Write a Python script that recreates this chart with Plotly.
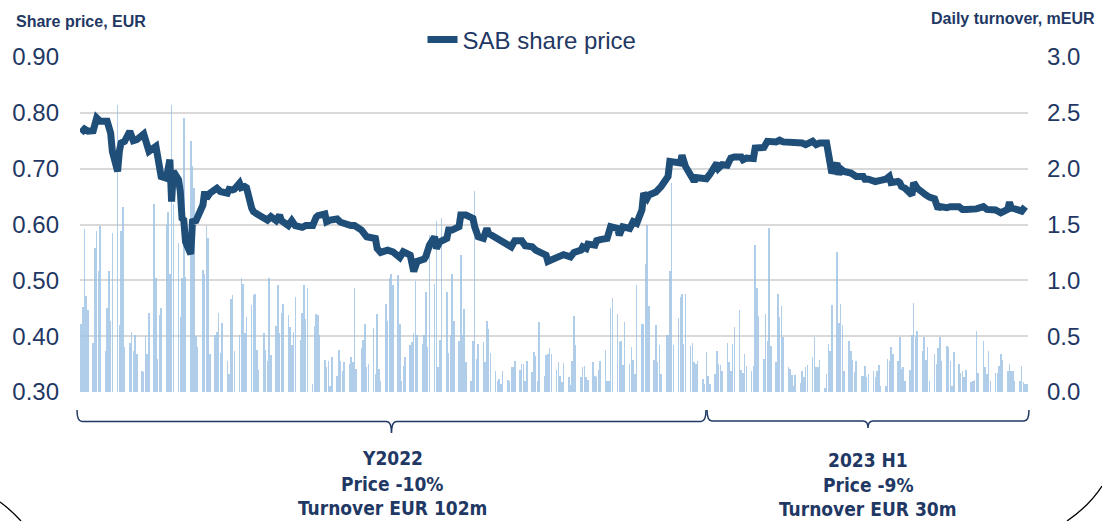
import pandas as pd
import plotly.graph_objects as go

# ---------------- data ----------------
trading_days = pd.bdate_range("2022-01-03", "2023-06-30")  # one bar per trading day

# daily turnover, mEUR (one row per week, Mon..Fri)
turnover_2022 = [
    0.61, 0.76, 1.46, 0.86, 0.73,
    0.44, 1.29, 1.44, 1.08, 1.49,
    0.37, 0.75, 1.08, 0.64, 1.42,
    2.57, 0.60, 1.44, 1.66, 0.40,
    0.44, 0.54, 0.37, 0.51, 0.34,
    0.19, 0.18, 0.50, 0.34, 0.71,
    1.68, 1.02, 0.30, 0.69, 0.75,
    1.50, 1.61, 1.06, 2.57, 1.68,
    1.33, 0.67, 1.02, 2.45, 1.03,
    2.25, 2.02, 1.83, 0.50, 0.40,
    1.09, 1.06, 1.49, 1.38, 0.34,
    0.51, 0.54, 0.71, 0.35, 0.62,
    0.28, 0.16, 0.83, 0.87, 0.37,
    0.51, 1.02, 0.97, 0.53, 0.67,
    0.78, 0.87, 0.88, 0.38, 0.20,
    0.53, 0.38, 0.28, 1.02, 0.33,
    0.59, 0.96, 0.53, 0.71, 0.79,
    0.69, 0.58, 0.42, 0.54, 0.85,
    0.47, 0.71, 0.96, 0.65, 0.93,
    0.07, 0.59, 0.70, 0.69, 0.51,
    0.29, 0.22, 0.28, 0.05, 0.31,
    0.14, 0.38, 0.28, 0.19, 0.27,
    0.25, 0.31, 0.27, 0.93, 0.21,
    0.39, 0.47, 0.61, 0.22, 0.25,
    0.57, 0.16, 0.70, 0.21, 0.10,
    0.79, 0.64, 1.02, 1.06, 0.96,
    1.05, 0.61, 0.10, 0.23, 0.31,
    0.42, 0.45, 0.53, 0.99, 0.51,
    0.43, 0.51, 0.90, 0.40, 1.41,
    0.97, 1.53, 0.22, 0.47, 1.56,
    0.90, 0.35, 0.51, 1.06, 0.64,
    0.46, 1.23, 0.51, 0.74, 0.27,
    0.10, 0.46, 1.80, 0.30, 0.43,
    0.45, 0.27, 0.64, 0.56, 0.35,
    0.19, 0.10, 0.12, 0.07, 0.19,
    0.11, 0.10, 0.22, 0.22, 0.28,
    0.20, 0.25, 0.25, 0.10, 0.28,
    0.18, 0.36, 0.32, 0.10, 0.63,
    0.14, 0.33, 0.34, 0.39, 0.34,
    0.20, 0.27, 0.14, 0.09, 0.26,
    0.13, 0.06, 0.28, 0.68, 0.42,
    0.13, 0.22, 0.23, 0.13, 0.11,
    0.27, 0.14, 0.13, 0.20, 0.28,
    0.38, 0.10, 0.10, 0.75, 0.84,
    0.70, 0.45, 0.46, 0.24, 0.63,
    0.25, 0.40, 0.29, 0.16, 0.96,
    0.61, 0.61, 1.15, 1.50, 0.77,
    0.29, 0.60, 0.27, 0.42, 0.16,
    0.51, 0.51, 1.08, 1.87, 0.42,
    0.66, 0.85, 0.88, 0.43, 0.88,
    0.41, 0.44, 0.27, 0.25, 0.28,
    0.12, 0.07, 0.36, 0.14, 0.07,
]
turnover_2023 = [
    0.16, 0.37, 0.25, 0.24, 0.19,
    0.44, 0.27, 0.19, 0.43, 0.58,
    0.73, 0.20, 0.17, 0.34, 0.23,
    0.19, 0.23, 1.32, 0.93, 0.68,
    0.30, 0.70, 0.46, 1.47, 0.41,
    0.27, 0.88, 0.67, 0.77, 0.49,
    0.22, 0.21, 0.15, 0.05, 0.15,
    0.08, 0.19, 0.13, 0.22, 0.24,
    0.31, 0.49, 0.22, 0.22, 0.29,
    0.04, 0.16, 0.43, 0.37, 0.78,
    1.25, 0.62, 0.79, 0.60, 0.19,
    0.46, 0.37, 0.29, 0.18, 0.28,
    0.14, 0.14, 0.23, 0.13, 0.16,
    0.19, 0.13, 0.19, 0.24, 0.05,
    0.05, 0.30, 0.28, 0.40, 0.34,
    0.28, 0.49, 0.21, 0.22, 0.10,
    0.20, 0.51, 0.80, 0.49, 0.55,
    0.37, 0.49, 0.29, 0.40, 0.10,
    0.34, 0.25, 0.39, 0.49, 0.28,
    0.41, 0.40, 0.28, 0.05, 0.36,
    0.25, 0.17, 0.19, 0.13, 0.20,
    0.09, 0.10, 0.11, 0.55, 0.17,
    0.46, 0.22, 0.16, 0.37, 0.10,
    0.17, 0.17, 0.23, 0.34, 0.29,
    0.19, 0.25, 0.19, 0.19, 0.10,
    0.10, 0.23, 0.09, 0.07, 0.07,
]
turnover = turnover_2022 + turnover_2023

# SAB share price, EUR: trading-day number -> close
price_day = [
    0, 2, 4, 5, 7, 8, 9, 11, 12, 13, 14, 15, 16, 17, 19, 20, 22, 24, 26, 27,
    29, 31, 32, 34, 35, 37, 38, 39, 40, 41, 42, 43, 44, 45, 46, 48, 50, 51, 52, 54,
    56, 58, 60, 61, 63, 64, 65, 66, 68, 69, 70, 71, 74, 77, 79, 80, 82, 83, 85, 87,
    89, 91, 93, 95, 97, 98, 100, 101, 103, 105, 107, 109, 111, 113, 115, 118, 120, 121, 122, 124,
    126, 129, 131, 133, 135, 137, 139, 141, 142, 144, 145, 146, 148, 150, 151, 153, 155, 156, 159, 161,
    162, 164, 165, 167, 168, 171, 173, 175, 177, 179, 181, 183, 185, 187, 189, 191, 192, 194, 196, 199,
    201, 203, 205, 206, 208, 209, 211, 212, 214, 216, 218, 220, 221, 223, 225, 227, 229, 230, 231, 233,
    234, 236, 239, 241, 242, 244, 246, 247, 249, 251, 252, 253, 255, 257, 259, 261, 262, 264, 265, 267,
    269, 271, 272, 274, 276, 277, 280, 281, 282, 285, 287, 289, 292, 293, 296, 298, 300, 302, 304, 306,
    307, 309, 310, 311, 312, 314, 316, 319, 321, 322, 324, 326, 329, 330, 332, 333, 335, 336, 337, 339,
    341, 342, 344, 345, 347, 349, 350, 352, 353, 355, 357, 360, 362, 364, 366, 368, 370, 372, 375, 377,
    378, 380, 381, 382, 384, 386, 388,
]
price_value = [
    0.764, 0.771, 0.767, 0.768, 0.791, 0.785, 0.785, 0.785, 0.773, 0.764, 0.731, 0.695, 0.731, 0.746, 0.749, 0.767, 0.750, 0.752, 0.762, 0.752,
    0.731, 0.740, 0.725, 0.686, 0.683, 0.716, 0.641, 0.695, 0.680, 0.659, 0.611, 0.608, 0.569, 0.547, 0.605, 0.607, 0.635, 0.659, 0.647, 0.656,
    0.665, 0.659, 0.656, 0.663, 0.662, 0.663, 0.674, 0.666, 0.668, 0.666, 0.629, 0.623, 0.617, 0.608, 0.614, 0.607, 0.617, 0.607, 0.598, 0.607,
    0.598, 0.595, 0.598, 0.598, 0.613, 0.616, 0.619, 0.605, 0.608, 0.610, 0.604, 0.601, 0.598, 0.598, 0.590, 0.578, 0.574, 0.575, 0.557, 0.550,
    0.554, 0.551, 0.541, 0.551, 0.545, 0.516, 0.534, 0.538, 0.543, 0.563, 0.578, 0.557, 0.569, 0.575, 0.590, 0.590, 0.596, 0.617, 0.617, 0.611,
    0.596, 0.578, 0.575, 0.593, 0.584, 0.575, 0.571, 0.563, 0.560, 0.571, 0.571, 0.562, 0.560, 0.554, 0.551, 0.545, 0.534, 0.537, 0.544, 0.546,
    0.542, 0.550, 0.554, 0.560, 0.557, 0.565, 0.563, 0.571, 0.573, 0.575, 0.596, 0.593, 0.581, 0.596, 0.593, 0.605, 0.602, 0.626, 0.656, 0.647,
    0.653, 0.658, 0.668, 0.686, 0.713, 0.713, 0.710, 0.724, 0.704, 0.683, 0.677, 0.684, 0.683, 0.682, 0.690, 0.710, 0.701, 0.707, 0.706, 0.719,
    0.721, 0.721, 0.716, 0.719, 0.718, 0.737, 0.738, 0.746, 0.749, 0.748, 0.751, 0.748, 0.748, 0.746, 0.746, 0.743, 0.749, 0.743, 0.746, 0.746,
    0.725, 0.692, 0.710, 0.689, 0.700, 0.695, 0.692, 0.686, 0.686, 0.681, 0.681, 0.677, 0.679, 0.681, 0.686, 0.675, 0.677, 0.675, 0.668, 0.665,
    0.653, 0.675, 0.665, 0.656, 0.653, 0.649, 0.646, 0.628, 0.632, 0.630, 0.632, 0.632, 0.627, 0.627, 0.627, 0.628, 0.632, 0.627, 0.626, 0.624,
    0.621, 0.627, 0.640, 0.630, 0.627, 0.624, 0.632,
]
price_dates = trading_days[price_day]

price_ticks = [0.30, 0.40, 0.50, 0.60, 0.70, 0.80, 0.90]
turnover_ticks = [0.0, 0.5, 1.0, 1.5, 2.0, 2.5, 3.0]

period_labels = [
    ["Y2022", "Price -10%", "Turnover EUR 102m"],
    ["2023 H1", "Price -9%", "Turnover EUR 30m"],
]

# ---------------- layout helpers ----------------
W, H = 1102, 521
L, R, T, B = 80, 1028, 57, 392
NAVY = "#1F3864"
LINE = "#1F4E79"


def px_x(px):
    return (px - L) / (R - L)


def px_y(py):
    return (B - py) / (B - T)


def path(points):
    s = ""
    for cmd, pts in points:
        s += cmd + " " + " ".join(f"{px_x(x):.5f},{px_y(y):.5f}" for x, y in pts) + " "
    return s.strip()


fig = go.Figure()
fig.add_trace(go.Bar(
    x=trading_days, y=turnover, yaxis="y", name="Daily turnover",
    marker=dict(color="#9DC3E6", line_width=0), opacity=0.8,
    width=0.3 * 86400000, showlegend=False,
))
fig.add_trace(go.Scatter(
    x=price_dates, y=price_value, yaxis="y2", mode="lines",
    name="SAB share price", line=dict(color=LINE, width=7),
))

shapes = []


def bracket(x0, x1, ytop, ybar, ytip):
    xm = (x0 + x1) / 2
    return path([
        ("M", [(x0, ytop)]),
        ("Q", [(x0, ybar), (x0 + 5, ybar)]),
        ("L", [(xm - 5, ybar)]),
        ("Q", [(xm, ybar), (xm, ytip)]),
        ("Q", [(xm, ybar), (xm + 5, ybar)]),
        ("L", [(x1 - 5, ybar)]),
        ("Q", [(x1, ybar), (x1, ytop)]),
    ])


for p in [bracket(77, 706, 410, 421.5, 433), bracket(707, 1029, 410, 421, 428)]:
    shapes.append(dict(type="path", xref="paper", yref="paper", path=p,
                       line=dict(color=NAVY, width=1.5)))
# rounded frame corners
shapes.append(dict(type="path", xref="paper", yref="paper",
                   path=path([("M", [(0, 502)]), ("Q", [(11, 510), (21, 521)])]),
                   line=dict(color="black", width=1.3)))
shapes.append(dict(type="path", xref="paper", yref="paper",
                   path=path([("M", [(1067, 521)]), ("Q", [(1089, 506), (1102, 486)])]),
                   line=dict(color="black", width=1.3)))

annotations = [
    dict(text="<b>Share price, EUR</b>", x=px_x(14), y=px_y(21), xref="paper", yref="paper",
         xanchor="left", yanchor="middle", showarrow=False, font=dict(size=16, color=NAVY)),
    dict(text="<b>Daily turnover, mEUR</b>", x=px_x(1097), y=px_y(19), xref="paper", yref="paper",
         xanchor="right", yanchor="middle", showarrow=False, font=dict(size=16, color=NAVY)),
]
centers = [(392, [458, 484, 508]), (868, [460, 485, 509])]
for (cx, ys), lines in zip(centers, period_labels):
    for yy, txt in zip(ys, lines):
        annotations.append(dict(
            text=f"<b>{txt}</b>", x=px_x(cx), y=px_y(yy), xref="paper", yref="paper",
            xanchor="center", yanchor="middle", showarrow=False,
            font=dict(size=19, color=NAVY, family="DejaVu Sans Condensed, DejaVu Sans"),
        ))

fig.update_layout(
    width=W, height=H,
    margin=dict(l=L, r=W - R, t=T, b=H - B, pad=0),
    plot_bgcolor="white", paper_bgcolor="white",
    font=dict(family="Liberation Sans, Arial", color=NAVY),
    xaxis=dict(type="date", range=["2022-01-02 10:00", "2023-06-30 15:00"],
               showticklabels=False, showgrid=False, zeroline=False, showline=False, ticks=""),
    yaxis=dict(side="right", range=[0, 3.0], tickvals=turnover_ticks, tickformat=".1f",
               showgrid=True, gridcolor="#D9D9D9", gridwidth=2, zeroline=False, showline=False,
               tickfont=dict(size=24, color=NAVY), ticklabelstandoff=18),
    yaxis2=dict(side="left", overlaying="y", range=[0.30, 0.90], tickvals=price_ticks, tickformat=".2f",
                showgrid=False, zeroline=False, showline=False,
                tickfont=dict(size=24, color=NAVY), ticklabelstandoff=20),
    legend=dict(orientation="h", x=px_x(532), xanchor="center", y=px_y(40), yanchor="middle",
                font=dict(size=24, color=NAVY), bgcolor="rgba(0,0,0,0)"),
    bargap=0,
    shapes=shapes,
    annotations=annotations,
)

fig.write_html("out.html", config={"displayModeBar": False},
               post_script="document.body.style.margin='0';")
